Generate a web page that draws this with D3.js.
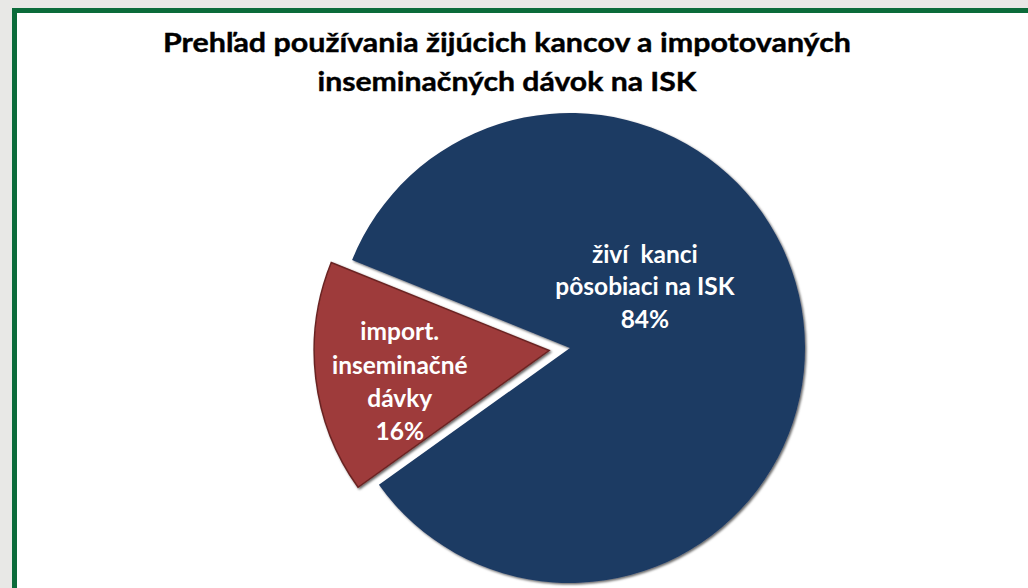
<!DOCTYPE html>
<html>
<head>
<meta charset="utf-8">
<script src="https://cdn.jsdelivr.net/npm/d3@7"></script>
<style>
  body { margin: 0; background: #e8e8e6; }
  svg { display: block; }
</style>
</head>
<body>
<div id="container"></div>
<script>
const titleLines = ['Prehľad používania žijúcich kancov a impotovaných', 'inseminačných dávok na ISK'];
const categories = ['živí  kanci|pôsobiaci na ISK', 'import.|inseminačné|dávky'];
const values = [84, 16];
const colors = ['#1f3a63', '#9e3b3a'];

const width = 1028, height = 588;
const cx = 570, cy = 348, radius = 235;
const explode = 21;

const svg = d3.select('#container').append('svg')
  .attr('width', width)
  .attr('height', height);

// soft shadow like the office pie
const defs = svg.append('defs');
const shadow = defs.append('filter').attr('id', 'shadow')
  .attr('x', '-10%').attr('y', '-10%').attr('width', '120%').attr('height', '120%');
shadow.append('feDropShadow')
  .attr('dx', 1.5).attr('dy', 1.5).attr('stdDeviation', 1.2)
  .attr('flood-color', '#000').attr('flood-opacity', 0.6);

// frame
svg.append('rect')
  .attr('x', 14.5).attr('y', 10.5)
  .attr('width', width).attr('height', height)
  .attr('fill', '#fff')
  .attr('stroke', '#0b6b3a')
  .attr('stroke-width', 5);

// title
svg.append('g').selectAll('text')
  .data(titleLines)
  .enter()
  .append('text')
  .attr('x', 507)
  .attr('y', (d, i) => 52 + i * 39)
  .attr('text-anchor', 'middle')
  .attr('font-family', 'Lato, "Open Sans", sans-serif')
  .attr('font-weight', 700)
  .attr('font-size', 26.5)
  .attr('fill', '#000')
  .attr('stroke', '#000')
  .attr('stroke-width', 0.4)
  .attr('textLength', (d, i) => i === 0 ? 688 : 379)
  .attr('lengthAdjust', 'spacingAndGlyphs')
  .text((d) => d);

const pie = d3.pie()
  .sort(null)
  .startAngle(292 * Math.PI / 180)
  .endAngle(652 * Math.PI / 180);

const arc = d3.arc().innerRadius(0).outerRadius(radius);

const slices = pie(values);

const g = svg.append('g')
  .attr('transform', `translate(${cx}, ${cy})`);

const sliceG = g.selectAll('g.slice')
  .data(slices)
  .enter()
  .append('g')
  .attr('class', 'slice')
  .attr('transform', (d, i) => {
    if (i === 0) return null;
    const mid = (d.startAngle + d.endAngle) / 2;
    return `translate(${Math.sin(mid) * explode}, ${-Math.cos(mid) * explode})`;
  });

sliceG.append('path')
  .attr('d', arc)
  .attr('fill', (d, i) => colors[i])
  .attr('stroke', (d, i) => i === 1 ? '#6b2423' : 'none')
  .attr('stroke-width', 1.5)
  .attr('filter', 'url(#shadow)');

// label placement: radius fraction and angle nudge per slice
const labelArcs = [
  { r: 0.41, angle: 51 },
  { r: 0.65, angle: 258 }
];

sliceG.append('text')
  .attr('text-anchor', 'middle')
  .attr('font-family', 'Lato, "Open Sans", sans-serif')
  .attr('font-weight', 700)
  .attr('font-size', 24.5)
  .attr('fill', '#fff')
  .style('white-space', 'pre')
  .each(function (d, i) {
    const lines = categories[i].split('|').concat([values[i] + '%']);
    const a = labelArcs[i].angle * Math.PI / 180;
    const lx = Math.sin(a) * radius * labelArcs[i].r;
    const ly = -Math.cos(a) * radius * labelArcs[i].r;
    const step = i === 0 ? 32.5 : 33.5;
    const top = ly - (lines.length - 1) * step / 2 + 8;
    d3.select(this).selectAll('tspan')
      .data(lines)
      .enter()
      .append('tspan')
      .attr('x', lx)
      .attr('y', (t, j) => top + j * step)
      .text((t) => t);
  });
</script>
</body>
</html>
